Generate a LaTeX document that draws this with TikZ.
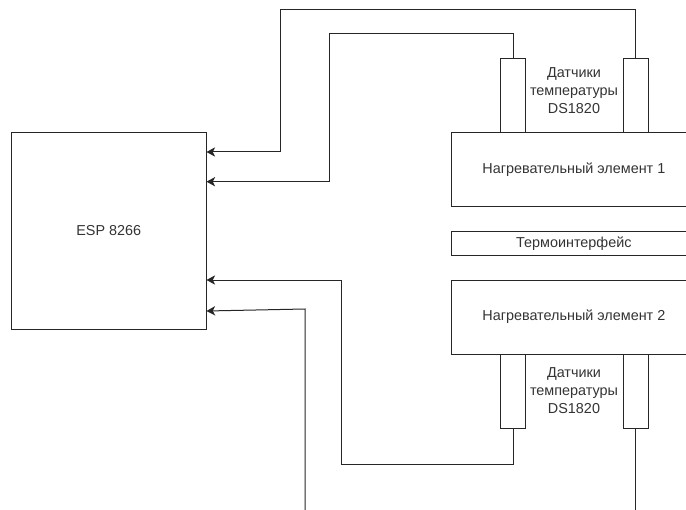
\documentclass[tikz,border=0pt]{standalone}
\usepackage{fontspec}
\setmainfont{Liberation Sans}
\usetikzlibrary{arrows.meta}
\begin{document}
\begin{tikzpicture}[x=0.75pt,y=-0.75pt,
  every node/.style={font=\fontsize{10.8pt}{13.3pt}\selectfont, text=black!80},
  blk/.style={draw=black!85, line width=0.75pt, inner sep=0pt, outer sep=0pt, align=center},
  sensor/.style={blk, minimum width=18.4pt, minimum height=55.5pt},
  wire/.style={draw=black!85, line width=0.75pt},
  arr/.style={wire, -{Stealth[length=6.5pt,width=7pt,inset=1.8pt]}}]
\useasboundingbox (0,0) rectangle (686,510);
% blocks
\node[blk, minimum width=146.6pt, minimum height=147pt] (esp) at (108.75,231) {ESP 8266};
\node[blk, minimum width=183.2pt, minimum height=55.3pt] (h1) at (573.85,169.85) {Нагревательный элемент 1};
\node[blk, minimum width=183.2pt, minimum height=18.5pt] (ti) at (573.85,243.35) {Термоинтерфейс};
\node[blk, minimum width=183.2pt, minimum height=55.5pt] (h2) at (573.85,317) {Нагревательный элемент 2};
\node[sensor] (s1l) at (513.2,96) {};
\node[sensor] (s1r) at (635.8,96) {};
\node[sensor] (s2l) at (513.2,391) {};
\node[sensor] (s2r) at (635.8,391) {};
\node[align=center] (lab1) at (574,90.5) {Датчики\\температуры\\DS1820};
\node[align=center] (lab2) at (574,390.5) {Датчики\\температуры\\DS1820};
% helper coordinates
\coordinate (y1) at (0,152);
\coordinate (y2) at (0,181.7);
\coordinate (y3) at (0,280);
\coordinate (y4) at (0,311);
\coordinate (c1) at (280,10);
\coordinate (c2) at (329.3,34);
\coordinate (c3) at (341.7,464);
\coordinate (c4) at (305,309);
\coordinate (b4) at (305,511);
\coordinate (b5) at (635.8,511);
% connectors
\draw[arr] (s1r.north) |- (c1) |- (esp.east |- y1);
\draw[arr] (s1l.north) |- (c2) |- (esp.east |- y2);
\draw[arr] (s2l.south) |- (c3) |- (esp.east |- y3);
\draw[arr] (b4) -- (c4) -- (esp.east |- y4);
\draw[wire] (s2r.south) -- (b5);
\end{tikzpicture}
\end{document}
